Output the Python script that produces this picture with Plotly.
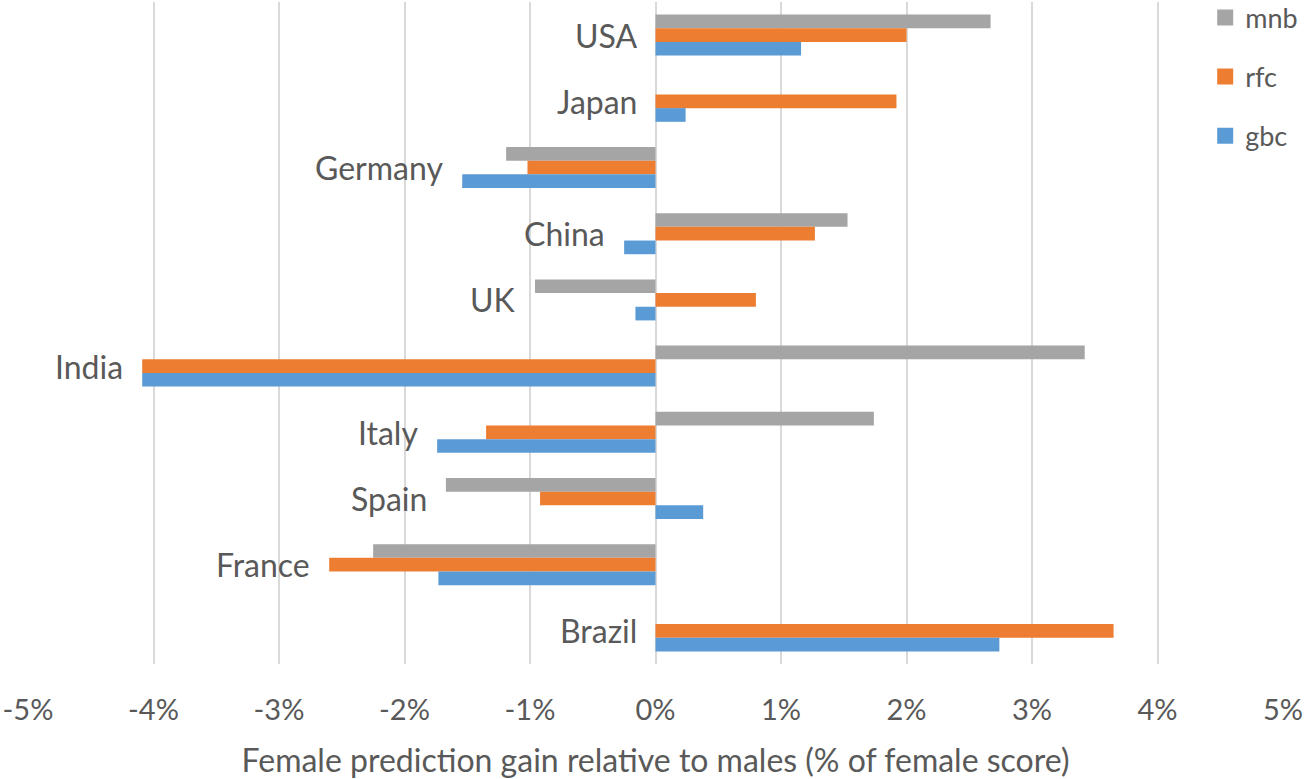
import plotly.graph_objects as go

countries = ["USA", "Japan", "Germany", "China", "UK", "India", "Italy", "Spain", "France", "Brazil"]
mnb = [2.67, 0.0, -1.19, 1.53, -0.96, 3.42, 1.74, -1.67, -2.25, 0.0]
rfc = [2.00, 1.92, -1.02, 1.27, 0.80, -4.09, -1.35, -0.92, -2.60, 3.65]
gbc = [1.16, 0.24, -1.54, -0.25, -0.16, -4.09, -1.74, 0.38, -1.73, 2.74]

series_names = ["mnb", "rfc", "gbc"]
series_colors = ["#A5A5A5", "#ED7D31", "#5B9BD5"]

tick_vals = [-5, -4, -3, -2, -1, 0, 1, 2, 3, 4, 5]
tick_text = ["-5%", "-4%", "-3%", "-2%", "-1%", "0%", "1%", "2%", "3%", "4%", "5%"]

x_title = "Female prediction gain relative to males (% of female score)"

FONT = "Lato"
TXT = "#595959"

fig = go.Figure()
for name, vals, col in zip(series_names, [mnb, rfc, gbc], series_colors):
    fig.add_trace(go.Bar(y=countries, x=vals, orientation="h", name=name,
                         marker=dict(color=col, line=dict(width=0)),
                         showlegend=False, legendgroup=name))
for name, col in zip(series_names, series_colors):
    fig.add_trace(go.Scatter(x=[None], y=[None], mode="markers", name=name,
                             marker=dict(symbol="square", size=16, color=col),
                             showlegend=True, legendgroup=name))

for i, c in enumerate(countries):
    xmin = min(0, mnb[i], rfc[i], gbc[i])
    fig.add_annotation(x=xmin, y=c, text=c, showarrow=False, xanchor="right",
                       yanchor="middle", xshift=-17,
                       font=dict(family=FONT, size=32, color=TXT))

fig.update_layout(
    width=1308, height=779,
    margin=dict(l=28, r=25, t=2, b=115, autoexpand=False),
    plot_bgcolor="white", paper_bgcolor="white",
    barmode="group", bargap=0.38, bargroupgap=0,
    font=dict(family=FONT, color=TXT),
    legend=dict(xref="paper", yref="paper", x=0.938, y=1.013,
                xanchor="left", yanchor="top", bgcolor="white",
                font=dict(family=FONT, size=27, color=TXT),
                tracegroupgap=21, itemwidth=30, traceorder="grouped"),
    xaxis=dict(range=[-5, 5], tickvals=tick_vals, ticktext=tick_text,
               showgrid=True, gridcolor="#D9D9D9", gridwidth=1.5,
               zeroline=True, zerolinecolor="#D9D9D9", zerolinewidth=1.5,
               showline=False, ticks="", ticklabelstandoff=26,
               tickfont=dict(family=FONT, size=29, color=TXT),
               title=dict(text=x_title, standoff=24,
                          font=dict(family=FONT, size=32, color=TXT))),
    yaxis=dict(autorange="reversed", showticklabels=False, showgrid=False,
               zeroline=False, showline=False, ticks=""),
)

fig.write_html("out.html", config={"displayModeBar": False},
               post_script="document.body.style.margin='0';")
